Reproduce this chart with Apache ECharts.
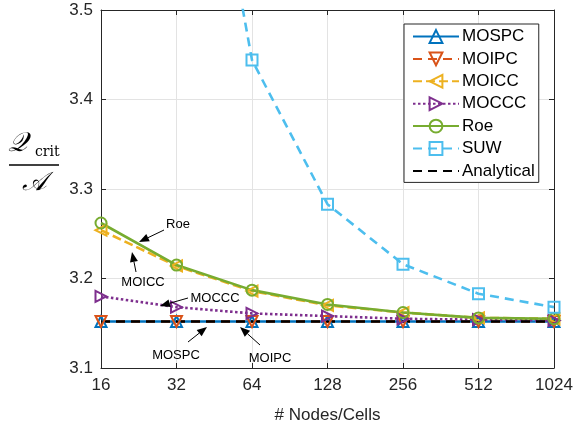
<!DOCTYPE html>
<html>
<head>
<meta charset="utf-8">
<script src="https://cdn.jsdelivr.net/npm/echarts@6/dist/echarts.min.js"></script>
<style>
  html, body { margin: 0; padding: 0; background: #fff; }
  #main { width: 579px; height: 429px; }
</style>
</head>
<body>
<div id="main"></div>
<script>
  // grid resolution (# nodes/cells)
  const cells = [16, 32, 64, 128, 256, 512, 1024];
  const yTicks = [3.1, 3.2, 3.3, 3.4, 3.5];

  const mospc = [3.152, 3.152, 3.152, 3.152, 3.152, 3.152, 3.152];
  const moipc = [3.152, 3.152, 3.152, 3.152, 3.152, 3.152, 3.152];
  const moicc = [3.254, 3.214, 3.186, 3.170, 3.162, 3.156, 3.155];
  const moccc = [3.180, 3.168, 3.161, 3.158, 3.155, 3.154, 3.153];
  const roe   = [3.262, 3.215, 3.187, 3.171, 3.162, 3.156, 3.155];
  const suw   = [4.90, 3.91, 3.444, 3.283, 3.216, 3.183, 3.168];
  const analytical = [3.152, 3.152, 3.152, 3.152, 3.152, 3.152, 3.152];

  const chart = echarts.init(document.getElementById('main'));
  const font = 'Liberation Sans, Arial, sans-serif';
  const axisCol = '#262626';

  function pairs(arr) { return cells.map((c, i) => [c, arr[i]]); }

  function mk(name, data, color, lineType, symbol, rotate) {
    return {
      name: name,
      type: 'line',
      data: pairs(data),
      symbol: symbol,
      symbolSize: 11,
      symbolRotate: rotate || 0,
      showSymbol: symbol !== 'none',
      clip: true,
      animation: false,
      lineStyle: { color: color, width: 2.6, type: lineType },
      itemStyle: { color: 'rgba(255,255,255,0)', borderColor: color, borderWidth: 2 }
    };
  }

  // arrow annotation: line from tail to tip with filled head
  function arrow(x1, y1, x2, y2) {
    const ang = Math.atan2(y2 - y1, x2 - x1);
    const L = 10, W = 4;
    const bx = x2 - L * Math.cos(ang), by = y2 - L * Math.sin(ang);
    const px = -Math.sin(ang) * W, py = Math.cos(ang) * W;
    return [
      { type: 'line', shape: { x1: x1, y1: y1, x2: bx, y2: by }, style: { stroke: '#000', lineWidth: 1 }, z: 100 },
      { type: 'polygon', shape: { points: [[x2, y2], [bx + px, by + py], [bx - px, by - py]] }, style: { fill: '#000' }, z: 100 }
    ];
  }
  function note(txt, x, y) {
    return { type: 'text', x: x, y: y, z: 100,
      style: { text: txt, font: '13px ' + font, fill: '#000', textAlign: 'center', textVerticalAlign: 'middle' } };
  }

  const graphics = [].concat(
    arrow(164, 230, 139, 242), [note('Roe', 178, 224)],
    arrow(136, 272, 132, 252), [note('MOICC', 143, 282)],
    arrow(188, 298, 160, 306), [note('MOCCC', 215, 298)],
    arrow(188, 342, 207, 327), [note('MOSPC', 176, 355)],
    arrow(260, 345, 240, 327), [note('MOIPC', 270, 358)],
    [
      { type: 'text', x: 8, y: 144, style: { text: '𝒬', font: 'italic 27px DejaVu Serif, serif', fill: '#000', textVerticalAlign: 'middle' } },
      { type: 'text', x: 35, y: 152, style: { text: 'crit', font: '14px DejaVu Serif, serif', fill: '#000', textVerticalAlign: 'middle' } },
      { type: 'line', shape: { x1: 9, y1: 165, x2: 59, y2: 165 }, style: { stroke: '#000', lineWidth: 1.3 } },
      { type: 'text', x: 34, y: 183, style: { text: '𝒜', font: 'italic 26px DejaVu Serif, serif', fill: '#000', textAlign: 'center', textVerticalAlign: 'middle' } }
    ]
  );

  const option = {
    backgroundColor: '#fff',
    animation: false,
    grid: { left: 101, right: 25, top: 10, bottom: 59, containLabel: false },
    legend: {
      orient: 'vertical',
      left: 404,
      top: 24,
      width: 138,
      itemWidth: 46,
      itemHeight: 16,
      itemGap: 5.4,
      padding: [4, 4, 3, 8],
      backgroundColor: '#fff',
      borderColor: axisCol,
      borderWidth: 1,
      textStyle: { fontFamily: font, fontSize: 17, lineHeight: 16, color: '#000', padding: [0, 0, 0, -2] },
      data: ['MOSPC', 'MOIPC', 'MOICC', 'MOCCC', 'Roe', 'SUW',
        { name: 'Analytical', itemStyle: { opacity: 0 } }]
    },
    xAxis: [{
      type: 'log',
      logBase: 2,
      min: 16,
      max: 1024,
      interval: 1,
      name: '# Nodes/Cells',
      nameLocation: 'middle',
      nameGap: 39,
      nameTextStyle: { fontFamily: font, fontSize: 17, color: axisCol },
      axisLine: { lineStyle: { color: axisCol, width: 1 } },
      axisTick: { inside: true, length: 5, lineStyle: { color: axisCol } },
      axisLabel: { fontFamily: font, fontSize: 17, color: axisCol, margin: 9, formatter: v => String(Math.round(v)) },
      splitLine: { show: true, lineStyle: { color: '#e3e3e3', width: 1 } },
      minorTick: { show: false }
    }, {
      type: 'log', logBase: 2, min: 16, max: 1024, interval: 1, position: 'top',
      axisLine: { show: true, lineStyle: { color: axisCol } },
      axisTick: { inside: true, length: 5, lineStyle: { color: axisCol } },
      axisLabel: { show: false }, splitLine: { show: false }
    }],
    yAxis: [{
      type: 'value',
      min: yTicks[0],
      max: yTicks[yTicks.length - 1],
      interval: 0.1,
      axisLine: { show: true, lineStyle: { color: axisCol, width: 1 } },
      axisTick: { show: true, inside: true, length: 5, lineStyle: { color: axisCol } },
      axisLabel: { fontFamily: font, fontSize: 17, color: axisCol, margin: 8, formatter: v => v.toFixed(1) },
      splitLine: { show: true, lineStyle: { color: '#e3e3e3', width: 1 } }
    }, {
      type: 'value', min: yTicks[0], max: yTicks[yTicks.length - 1], interval: 0.1, position: 'right',
      axisLine: { show: true, lineStyle: { color: axisCol } },
      axisTick: { show: true, inside: true, length: 5, lineStyle: { color: axisCol } },
      axisLabel: { show: false }, splitLine: { show: false }
    }],
    series: [
      mk('MOSPC', mospc, '#0072BD', 'solid', 'triangle', 0),
      mk('MOIPC', moipc, '#D95319', [9, 6], 'triangle', 180),
      mk('MOICC', moicc, '#EDB120', [9, 4], 'triangle', 90),
      mk('MOCCC', moccc, '#7E2F8E', [2.5, 2.5], 'triangle', -90),
      mk('Roe', roe, '#77AC30', 'solid', 'circle', 0),
      mk('SUW', suw, '#4DBEEE', [9, 6], 'rect', 0),
      mk('Analytical', analytical, '#000000', [9, 6], 'none', 0)
    ],
    graphic: graphics
  };
  chart.setOption(option);
</script>
</body>
</html>
